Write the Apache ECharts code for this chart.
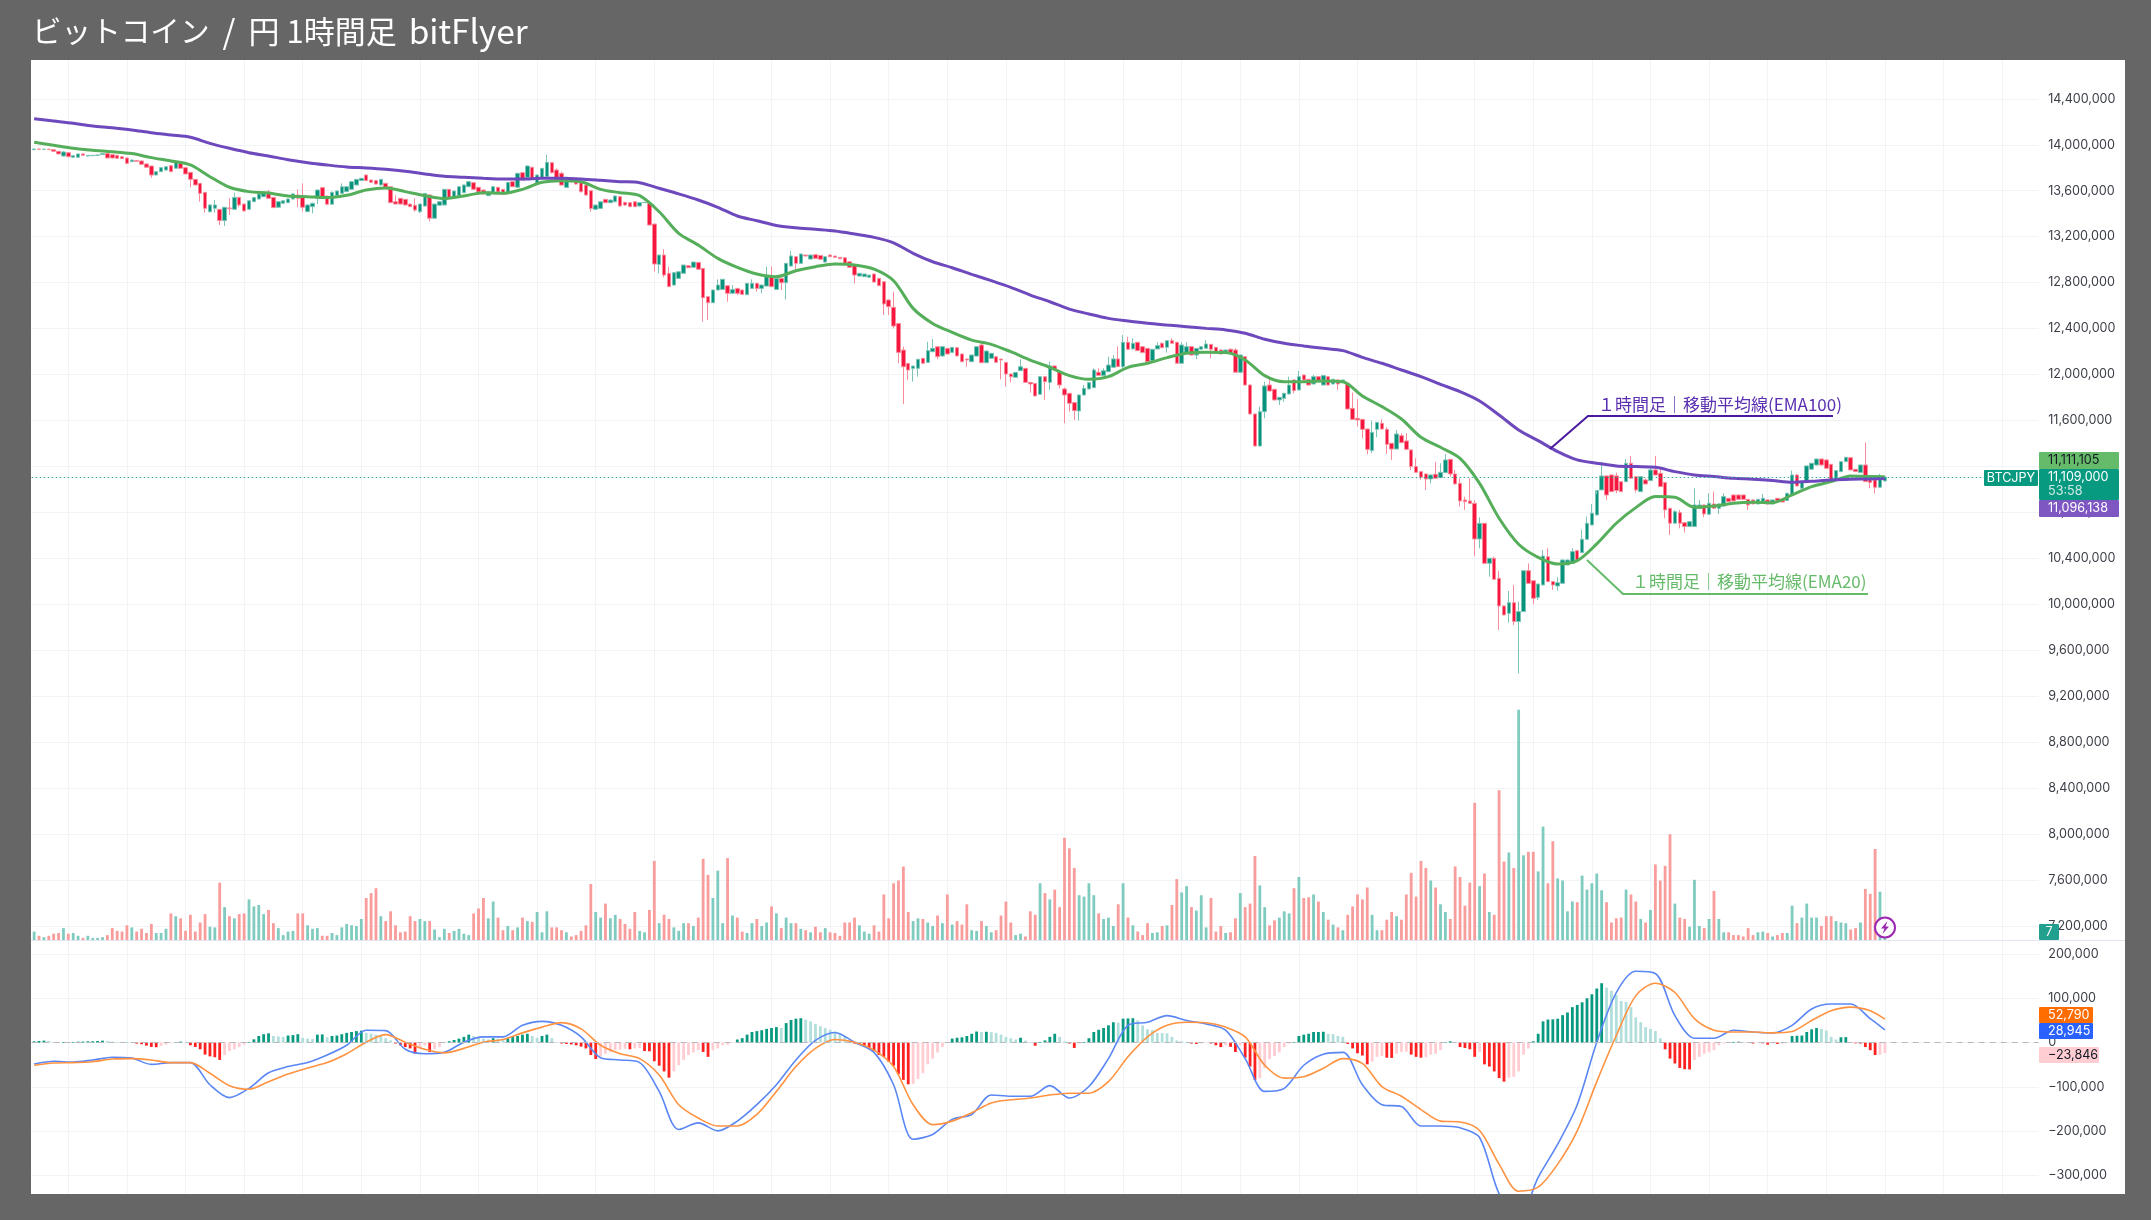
<!DOCTYPE html>
<html>
<head>
<meta charset="utf-8">
<title>BTCJPY 1H</title>
<style>
html,body{margin:0;padding:0;background:#666}
#chart{width:2151px;height:1220px}
</style>
<script src="https://cdn.jsdelivr.net/npm/echarts@6/dist/echarts.min.js"></script>
</head>
<body>
<div id="chart"></div>
<script>
// prices are in thousands of yen, macd in thousands
var opens = [13957,13963,13960,13960,13957,13943,13902,13931,13891,13891,13920,13902,13905,13908,13914,13923,13914,13908,13896,13885,13853,13862,13859,13833,13815,13737,13766,13780,13818,13795,13838,13801,13760,13699,13664,13586,13418,13447,13438,13340,13450,13438,13542,13484,13438,13505,13528,13548,13589,13542,13456,13490,13496,13528,13563,13554,13418,13461,13534,13627,13554,13482,13557,13577,13592,13612,13650,13688,13737,13693,13688,13650,13664,13635,13505,13534,13525,13484,13473,13418,13467,13563,13360,13473,13476,13612,13540,13557,13583,13635,13670,13630,13606,13557,13577,13630,13612,13577,13679,13630,13757,13716,13804,13664,13708,13722,
13844,13780,13751,13629,13707,13707,13670,13649,13600,13438,13446,13525,13496,13504,13548,13499,13496,13504,13467,13496,13490,13310,12959,13040,12881,12779,12837,12881,12947,12933,12976,12924,12678,12625,12736,12741,12773,12707,12750,12736,12695,12750,12794,12750,12770,12857,12741,12837,12799,12944,13026,12968,13040,13005,13043,13037,12979,13040,13031,13020,13017,12982,12953,12857,12852,12846,12875,12837,12808,12649,12585,12445,12213,12097,12054,12054,12141,12106,12199,12242,12161,12228,12193,12234,12179,12135,12112,12161,12257,12103,12141,12155,12135,12106,12005,11976,12034,12054,11932,11923,11828,11981,11932,12075,12025,
11875,11837,11756,11683,11822,11875,11886,12020,11991,12025,12063,12136,12069,12281,12223,12281,12243,12228,12121,12223,12272,12237,12295,12281,12098,12185,12243,12170,12220,12228,12263,12237,12214,12185,12220,12214,12020,12156,11909,11657,11378,11677,11909,11872,11779,11793,11831,11953,11866,11996,11959,11918,11982,11909,11982,11918,11953,11930,11924,11706,11619,11610,11526,11338,11523,11576,11523,11402,11352,11468,11422,11344,11199,11155,11135,11091,11132,11103,11146,11262,11135,11053,10908,10900,10879,10569,10705,10357,10401,10227,9986,9922,10015,9850,9937,10293,10206,10061,10169,10415,10198,10160,10183,10343,10357,10467,
10450,10566,10691,10778,10996,11118,11126,11118,11068,11068,11228,11112,10981,11083,11077,11170,11141,11060,10836,10706,10798,10711,10677,10677,10836,10865,10784,10874,10836,10856,10923,10952,10952,10952,10914,10909,10874,10894,10909,10874,10923,10917,10903,10952,11126,11010,11060,11176,11213,11265,11257,11219,11088,11155,11242,11277,11176,11147,11213,11083,11083,11019,11074];
var closes = [13963,13960,13960,13957,13943,13920,13937,13896,13905,13920,13908,13908,13908,13911,13923,13885,13885,13882,13879,13838,13867,13856,13830,13804,13737,13766,13801,13809,13766,13844,13795,13746,13699,13650,13577,13447,13476,13476,13340,13456,13444,13542,13476,13424,13513,13540,13572,13583,13534,13453,13505,13513,13528,13572,13534,13456,13476,13490,13606,13548,13482,13586,13598,13635,13635,13679,13699,13708,13688,13673,13658,13699,13630,13496,13484,13484,13476,13461,13432,13484,13577,13360,13484,13505,13612,13534,13598,13635,13650,13679,13612,13589,13572,13592,13635,13589,13569,13673,13635,13751,13693,13815,13699,13737,13795,13847,
13757,13693,13649,13716,13678,13658,13591,13562,13446,13475,13504,13496,13519,13554,13467,13475,13461,13461,13496,13499,13301,12962,13040,12866,12765,12887,12895,12953,12930,12979,12916,12669,12625,12736,12779,12829,12707,12741,12707,12698,12794,12794,12750,12779,12852,12765,12837,12799,12968,13032,12968,13049,13032,13040,13011,13003,13026,13026,13020,13008,12968,12933,12866,12881,12875,12866,12805,12774,12614,12591,12422,12193,12068,12039,12074,12133,12098,12208,12228,12156,12243,12179,12237,12162,12112,12127,12170,12243,12103,12205,12185,12107,12127,12005,11982,12019,12068,11932,11918,11814,11982,11938,12075,12040,11909,
11822,11750,11686,11822,11880,11930,12040,11993,12034,12083,12136,12069,12281,12220,12272,12208,12191,12112,12220,12252,12234,12295,12272,12098,12257,12243,12170,12228,12243,12266,12220,12185,12179,12214,12185,12020,12170,11909,11657,11378,11677,11901,11857,11779,11802,11837,11909,11860,11982,11953,11909,11982,11944,11991,11909,11959,11918,11953,11700,11610,11605,11523,11349,11497,11584,11526,11393,11352,11483,11407,11349,11199,11149,11106,11091,11126,11097,11149,11257,11135,11048,10900,10894,10879,10569,10705,10357,10401,10218,9986,9908,10015,9850,9937,10293,10183,10053,10177,10421,10198,10169,10189,10386,10386,10459,10386,
10566,10706,10793,10990,11118,10952,10981,10990,10981,11228,11097,10996,11112,11048,11170,11126,11025,10822,10706,10807,10706,10677,10720,10865,10865,10787,10880,10836,10874,10938,10894,10900,10914,10914,10865,10874,10914,10923,10874,10909,10903,10891,10967,11126,11030,11068,11205,11228,11265,11213,11184,11088,11164,11242,11280,11170,11155,11213,11068,11060,11019,11097,11109];
var highs = [13966,13966,13966,13966,13957,13943,13943,13934,13908,13923,13923,13911,13911,13914,13928,13925,13917,13911,13899,13888,13870,13865,13862,13836,13818,13769,13804,13815,13821,13850,13844,13804,13763,13702,13667,13589,13479,13519,13441,13458,13534,13583,13548,13487,13516,13543,13577,13589,13606,13545,13508,13516,13531,13577,13612,13664,13479,13496,13612,13630,13557,13592,13600,13664,13641,13682,13702,13711,13740,13696,13690,13702,13667,13638,13560,13537,13528,13487,13534,13487,13580,13572,13487,13508,13615,13615,13600,13638,13653,13682,13673,13632,13609,13595,13638,13632,13615,13676,13682,13757,13760,13821,13806,13740,13798,13911,
13850,13794,13765,13722,13710,13710,13673,13652,13603,13478,13507,13528,13522,13557,13551,13501,13499,13507,13499,13501,13493,13313,13043,13092,12939,12889,12898,12956,12950,12982,12979,12927,12681,12739,12829,12832,12777,12779,12753,12739,12797,12829,12797,12782,12939,12939,12866,12840,12971,13075,13029,13052,13043,13043,13046,13040,13029,13043,13034,13023,13020,12985,12956,12884,12878,12869,12878,12840,12811,12652,12721,12448,12243,12101,12077,12136,12144,12286,12309,12246,12246,12231,12240,12237,12182,12138,12173,12246,12272,12208,12188,12159,12138,12109,12008,12022,12133,12057,11935,11927,11985,11985,12112,12077,12028,
11889,11840,11758,11825,11909,11932,12054,12054,12054,12156,12170,12243,12344,12330,12315,12284,12246,12231,12223,12281,12281,12298,12315,12284,12281,12281,12246,12231,12246,12301,12266,12240,12217,12217,12228,12228,12173,12159,11912,11660,11721,11938,11967,11875,11805,11840,11982,11956,12031,12000,11961,11996,11985,11993,11985,11961,11956,11956,11927,11843,11785,11613,11529,11599,11587,11610,11541,11405,11518,11489,11489,11346,11271,11158,11138,11129,11242,11228,11309,11265,11170,11097,10937,11097,10908,10758,10708,10404,10415,10290,9989,10116,10169,10024,10296,10357,10209,10180,10473,10488,10201,10235,10389,10389,10488,10470,
10648,10764,10874,10959,11242,11120,11129,11147,11071,11265,11292,11115,11115,11097,11199,11292,11184,11062,10839,10822,10822,10714,10723,11010,10909,10868,10967,10981,10877,10967,10926,10955,10955,10955,10917,10911,10917,10961,10911,10911,10926,10920,10970,11164,11129,11071,11207,11231,11268,11268,11260,11222,11167,11245,11283,11280,11178,11216,11408,11086,11086,11135,11106];
var lows = [13954,13957,13957,13954,13940,13917,13899,13893,13888,13888,13905,13899,13902,13905,13911,13882,13882,13879,13876,13830,13850,13853,13827,13801,13713,13734,13763,13775,13763,13792,13792,13743,13630,13647,13505,13409,13409,13409,13302,13293,13389,13432,13456,13421,13435,13502,13525,13545,13531,13450,13456,13488,13493,13525,13456,13418,13415,13403,13484,13545,13479,13479,13554,13572,13589,13609,13647,13685,13685,13670,13655,13647,13627,13493,13482,13482,13473,13458,13418,13403,13464,13331,13357,13470,13473,13531,13537,13554,13580,13632,13609,13586,13569,13554,13574,13586,13566,13574,13632,13627,13690,13714,13696,13661,13705,13708,
13751,13687,13644,13623,13676,13655,13586,13560,13417,13435,13444,13493,13493,13501,13464,13472,13458,13458,13464,13493,13298,12895,12881,12846,12762,12777,12834,12878,12927,12930,12913,12460,12475,12623,12733,12739,12634,12704,12692,12695,12692,12747,12721,12707,12768,12762,12739,12736,12655,12942,12915,12965,13029,13003,13008,13000,12976,13023,13017,13005,12965,12930,12794,12855,12849,12843,12802,12770,12518,12518,12402,12097,11744,11952,11938,11982,12095,12103,12196,12133,12159,12176,12190,12159,12109,12068,12109,12159,12100,12100,12138,12103,11958,11894,11932,11973,12031,11930,11843,11811,11825,11779,11866,12037,11880,
11576,11677,11605,11599,11819,11872,11883,11991,11988,12022,12060,12066,12054,12217,12220,12205,12188,12109,12118,12220,12231,12191,12269,12095,12095,12182,12167,12133,12217,12225,12141,12182,12176,12182,12182,12017,12011,11906,11654,11375,11375,11619,11854,11776,11735,11764,11828,11837,11863,11950,11906,11915,11941,11906,11906,11915,11866,11927,11697,11608,11547,11445,11306,11315,11454,11523,11309,11257,11349,11405,11346,11170,11146,11083,10995,11053,11094,11100,11143,11111,11045,10850,10821,10877,10421,10488,10354,10241,10215,9777,9905,9841,9821,9400,9934,10180,10003,10038,10166,10195,10125,10119,10180,10340,10354,10383,
10447,10563,10688,10775,10993,10909,10978,10967,10978,11065,11094,10972,10978,11045,11074,11123,11022,10749,10604,10703,10662,10624,10674,10674,10833,10758,10781,10833,10787,10854,10891,10897,10911,10911,10822,10871,10871,10891,10871,10871,10900,10888,10900,10949,11028,11007,11057,11173,11210,11210,11181,11086,11086,11152,11239,11167,11152,11144,11065,11010,10967,11016,11071];
var volumes = [1.2,.6,.4,.6,.9,1,1.7,.9,1,.6,.3,.6,.3,.3,.4,.7,1.7,1.3,1.2,2.1,1.8,1.2,1.6,1,2.3,1,1,1.6,3.8,3.4,3.1,1.3,3.6,1.2,2.5,3.7,1.9,1.8,8.2,4.7,3.4,3.1,3.7,3.8,5.8,4.8,5,3.7,4.3,2.4,1.7,.7,1.2,1.3,3.8,3.8,2.1,1.6,1.7,.6,.6,1,.7,1.8,2.3,2.1,2,3,6,6.7,7.4,3.4,2.7,4.1,2.1,1.1,1.2,3.4,2.7,3,2.7,2.7,1.5,.4,1.6,1,1.3,1.6,.9,.7,3.8,4.5,6,3.1,5.5,3.2,1.4,2,1.4,1.8,3.2,2.7,2.6,4,1.1,4.1,1.8,1.8,1.4,1.1,.5,.7,1.3,2.1,8,4,3.2,5.2,3.1,3.6,3,2.3,1.6,4,1.3,1.1,4.3,11.3,2.4,3.6,3,1.8,1.3,2.4,2.4,2,3.2,11.6,9.3,6,9.9,
2.4,11.7,3.5,3.2,1.2,1,2.4,3,2,2.5,4.8,3.8,1.7,3.2,2.4,2.4,1.6,1.4,1.1,1.9,1.1,1.7,1.1,1,.6,2.5,2.5,3.2,2.1,1.2,.9,2.1,1.2,6.5,3.1,8.1,8.5,10.5,4,2.7,3.1,3,2.5,2,3.5,2.4,6.5,2.2,2.7,2.2,5.1,1.4,1.3,2.7,2,1.1,1.4,3.5,5.5,2.5,.7,.9,.5,4.1,3.6,8.1,6.7,5.8,7.2,4.7,14.6,13.1,10.3,6.4,6.2,8.1,6.4,3.8,3,3.2,2,5.1,8.1,3.2,2.1,1.2,.7,2.4,1,1.1,2,2.1,5,8.7,6.8,7.7,4.7,4.2,6.4,1.8,6,1.2,2,1,1.1,3.1,6.7,4.7,5.2,12,7.8,4.7,2.1,2.8,3.2,4.1,3.8,7.4,9,
6,6.1,6.5,5.5,4,2.9,2.2,1.8,1.4,3.6,4.8,6.5,5.8,7.5,3.6,1.4,1.4,2.9,4,3.4,2.9,6.5,9.6,6.2,11.3,10.3,8.5,7.5,5.1,4,3,10.5,9,4.9,8.2,19.6,7.7,9.5,4,3.6,21.4,11.2,12.5,10.3,32.9,12.1,12.6,12.6,9.8,16.2,8.1,14.1,8.8,8.5,4.1,5.5,5.4,9.2,7.2,8.1,9.5,7.1,5.4,2.5,3.1,3.2,7.2,6.5,5.5,3,2.5,4.3,10.8,8.5,10.6,15.1,5.2,3.2,3,1.9,8.6,2,1.7,3,7,3,1.1,1.1,.7,.7,.5,1.7,.7,1.1,1.2,1,.5,.7,1,1,4.9,2.4,3.2,5.2,3.2,3.2,2,3.4,3.4,2.7,2.5,2.4,1.5,1.7,2.5,7.3,6.6,13,6.9,1];
var histogram = [3,3.7,4.5,3.7,1.5,.7,1.5,.7,1.5,2.2,2.2,3,3,3.7,4.5,3.7,2.2,1.5,.7,.7,.2,-2.2,-3.7,-6.7,-9.7,-10.4,-7.4,-4.5,-1.5,1.5,2.2,.7,-6,-9.7,-15,-27,-31,-33,-39,-28,-19,-15,-10,-4.5,1.5,7.4,15,19,21,15,14,13,16,17,19,11,9,8,18,18.5,12,15,16,19,22,24,26,27,22,20,18,15,10,5,-2,-6,-10,-13,-25,-13,-6,-21,-15,-10,.5,3,6,9,13,18,15,13,9,7,10,9,7,10,13,15,18,20,15,11,15,18,10,1.5,-2,-3,-4,-6,-9,-13,-28,-37,-31,-25,-21,-17,-16,-14,-15,-13,-12,-19,-19.5,-42,-52,-65,-79,-65,-51,-39,-28,-22,-17,-21,-32,-17,-13,
-6,-4.5,-1,7,10,18,24,26,28,31,33,35,33,44,51,54,55,52,48,42,37,33,29,25,20,13,5,-2,-4.5,-7,-13,-19,-28,-32,-43,-52,-71,-84,-94,-93,-82,-69,-49,-36,-22,-10,.5,9,11,12,15,20,25,24,24.5,23.5,22,18,13,10,7,11,4.5,1.5,-7,1.5,5,13,20,13,3,-2,-12,-2,1.5,10,24,29,33,39,46,45,54,54.5,55,50,39,30,28,22,21.5,21,13,5,3,1.5,-2,-3,-1.5,-1,-2,-6,-10,-6,-9.5,-21,-6,-34,-54,-84,-80,-58,-37,-30,-22,-10,-2,1.5,15,
18,20,24,24,24.5,20,19,15,13,-3,-13,-24,-29,-49,-43,-32,-30,-34,-34.5,-25,-21,-20.5,-27,-32,-34,-33,-27,-25,-17,1.5,3,.5,-10,-12,-15,-32,-21,-49,-54,-65,-80,-88,-79,-77,-65,-27,-13,3,20,48,52,52.5,54,62,68,80,85,91,100,109,122,134,124,117,107,94,92,80,57,46,35,31,26,10,-15,-36,-47,-57,-60,-60.5,-39,-32,-25,-21,-17,-6,-2,-1,1.5,2.2,1.5,-.7,-2,-.7,-1.5,-4.5,-1.5,-3,-2,-1.5,15,15.5,16,24,30,33,31,27,13,7,12,12.5,1.5,-1.5,-2,-10,-17,-28,-27,-23.8];
// the four lines are read every 4th bar, see lineIdx
var ema20 = [14021,13995,13969,13952,13940,13923,13888,13859,13824,13722,13630,13592,13580,13554,13548,13540,13560,13606,13624,13592,13557,13531,13554,13583,13577,13612,13673,
13687,13678,13612,13583,13557,13417,13229,13127,13011,12933,12875,12852,12904,12939,12962,12953,12918,12817,12576,12445,12367,12300,12263,12199,12126,12063,
11991,11959,11982,12063,12098,12147,12185,12194,12191,12127,11991,11938,11938,11944,11938,11814,11721,11613,11454,11367,11271,11053,10749,10523,10409,10351,10380,
10526,10706,10842,10938,10932,10845,10856,10880,10888,10885,10952,11025,11068,11118,11112,11111];
var ema100 = [14227,14207,14187,14163,14149,14129,14105,14085,14065,14012,13969,13931,13902,13870,13844,13824,13807,13798,13786,13769,13746,13725,13717,13708,13702,13702,13708,13708,13702,13691,13679,13670,13621,13572,13519,13456,
13380,13339,13298,13278,13264,13249,13223,13194,13147,13055,12982,12930,12872,12817,12759,12692,12634,
12570,12527,12489,12466,12446,12431,12417,12402,12388,12359,12307,12272,12249,12228,12208,12150,12098,12040,11982,11915,11851,11770,11648,11518,11425,11329,11257,
11228,11205,11199,11193,11155,11126,11112,11097,11089,11077,11062,11071,11083,11089,11092,11096];
var macdLine = [-48,-42,-44,-39,-33,-35,-49,-45,-45,-95,-124,-103,-68,-54,-45,-28,-6,28,27,-15,-25,-22,1,13,13,39,48,39,13,-34,-39,-45,-110,-196,-181,-199,
-177,-140,-95,-39,5,23,1,-22,-95,-218,-207,-173,-162,-118,-121,-121,-97,-125,-99,-36,39,46,61,50,42,28,-36,-110,-103,-51,-26,-22,-95,-140,-144,-188,-188,
-192,-214,-341,-395,-304,-229,-140,1,113,161,156,61,10,10,28,24,22,39,76,87,87,54,29];
var signalLine = [-51,-46,-45,-43,-37,-36,-39,-45,-45,-69,-97,-105,-88,-71,-57,-45,-25,1,18,1,-15,-23,-13,1,7,22,35,45,31,-6,-25,-36,-73,-140,-170,-188,
-188,-162,-110,-54,-13,7,1,-17,-54,-140,-185,-177,-158,-136,-129,-125,-118,-114,-114,-88,-32,13,39,46,45,35,13,-51,-80,-77,-58,-36,-47,-99,-121,-151,-177,
-179,-198,-274,-335,-326,-274,-199,-88,16,106,134,113,54,28,24,24,22,25,50,72,80,72,53];
var priceTicks = {min: 6800, max: 14800, interval: 400};
var macdTicks = {min: -400, max: 300, interval: 100};
var lastPrice = 11109;
var slots = 411; // bars plus the empty space on the right

var UP = '#0a937c', DOWN = '#f5173d';
var axisFont = 'Inter';
var axisSize = 12.6;
var textColor = '#3b3e47';
var gridLine = {show: true, lineStyle: {color: '#f2f3f6', width: 1}, showMinLine: false, showMaxLine: false};

var xNames = [];
for (var i = 0; i < slots; i++) xNames.push(i + '');

var lineIdx = [];
for (var k = 0; k <= 376; k += 4) lineIdx.push(k);
lineIdx.push(379);

function pairs(values) {
    return values.map(function (v, n) { return [lineIdx[n], v]; });
}
function commas(v) {
    return Math.abs(v * 1000).toString().replace(/\B(?=(\d{3})+$)/g, ',');
}
function isDown(i) {
    return closes[i] < opens[i];
}

var candleData = opens.map(function (o, i) {
    return [o, closes[i], lows[i], highs[i]];
});

function xAxisFor(gridIndex, showGrid) {
    return {
        type: 'category',
        gridIndex: gridIndex,
        data: xNames,
        axisLine: {show: false},
        axisTick: {show: false, alignWithLabel: true},
        axisLabel: {show: false},
        splitLine: {
            show: showGrid,
            alignWithLabel: true,
            interval: function (index) { return index % 12 === 7; },
            lineStyle: {color: '#f2f3f6', width: 1}
        }
    };
}

var chart = echarts.init(document.getElementById('chart'));

function badge(x, y, w, h, fill, label, color, center) {
    var list = [{
        type: 'rect', silent: true, z: 70,
        shape: {x: x, y: y, width: w, height: h, r: 1},
        style: {fill: fill}
    }];
    if (label) {
        list.push({
            type: 'text', silent: true, z: 71,
            x: center ? x + w / 2 : 2048, y: y + h / 2,
            style: {
                text: label, fill: color, font: axisSize + 'px ' + axisFont,
                align: center ? 'center' : 'left', verticalAlign: 'middle'
            }
        });
    }
    return list;
}

var graphics = [
    {type: 'rect', silent: true, z: -10, shape: {x: 31, y: 60, width: 2094, height: 1134}, style: {fill: '#fff'}},
    {type: 'rect', silent: true, z: 50, shape: {x: 0, y: 0, width: 2151, height: 60}, style: {fill: '#666'}},
    {type: 'rect', silent: true, z: 50, shape: {x: 0, y: 1194, width: 2151, height: 26}, style: {fill: '#666'}},
    {type: 'line', silent: true, z: 3, shape: {x1: 31, y1: 940.5, x2: 2125, y2: 940.5}, style: {stroke: '#e3e6ee', lineWidth: 1}},
    {type: 'text', silent: true, z: 60, x: 32, y: 31, style: {
        text: '{k|ビットコイン}{s|/}{c|円 1時間足}{l|bitFlyer}',
        fill: '#fff', align: 'left', verticalAlign: 'middle',
        rich: {
            k: {font: '29.6px "Noto Sans CJK JP"', fill: '#fff'},
            s: {font: '33px "Noto Sans CJK JP"', fill: '#fff', padding: [0, 13, 0, 13]},
            c: {font: '31px "Noto Sans CJK JP"', fill: '#fff'},
            l: {font: '33.4px "Noto Sans CJK JP"', fill: '#fff', padding: [0, 0, 0, 12]}
        }
    }},
    // notes with their leader lines
    {type: 'polyline', silent: true, z: 40, shape: {points: [[1550, 449], [1588, 416], [1833, 416]]},
        style: {stroke: '#4a1a9e', lineWidth: 2, fill: 'none'}},
    {type: 'text', silent: true, z: 40, x: 1598, y: 405, style: {
        text: '１時間足｜移動平均線(EMA100)', fill: '#5a2fb0',
        font: '17px "Noto Sans CJK JP"', align: 'left', verticalAlign: 'middle'
    }},
    {type: 'polyline', silent: true, z: 40, shape: {points: [[1587, 560], [1623, 594], [1868, 594]]},
        style: {stroke: '#66bb6a', lineWidth: 2, fill: 'none'}},
    {type: 'text', silent: true, z: 40, x: 1632, y: 582, style: {
        text: '１時間足｜移動平均線(EMA20)', fill: '#66bb6a',
        font: '17px "Noto Sans CJK JP"', align: 'left', verticalAlign: 'middle'
    }},
    // marker on the last volume bar
    {type: 'circle', silent: true, z: 45, shape: {cx: 1885, cy: 927.5, r: 10}, style: {fill: '#fff', stroke: '#9c27b0', lineWidth: 2}},
    {type: 'polygon', silent: true, z: 46, shape: {points: [[1887.5, 921], [1881, 928.5], [1884.5, 928.5], [1882.5, 934], [1889, 926.5], [1885.5, 926.5]]}, style: {fill: '#9c27b0'}}
];
graphics = graphics.concat(
    badge(2039, 452, 80, 17, '#66bb6a', '11,111,105', '#131722'),
    badge(2039, 469, 80, 31, '#089981', '', ''),
    badge(2039, 500, 80, 17, '#7e57c2', '11,096,138', '#fff'),
    badge(1984, 470, 54, 16, '#089981', 'BTCJPY', '#fff', true),
    badge(2039, 924, 20, 16, '#22a08f', '7', '#fff', true),
    badge(2039, 1007, 54, 16, '#ff6d00', '52,790', '#fff'),
    badge(2039, 1023, 54, 16, '#2962ff', '28,945', '#fff'),
    badge(2039, 1047, 60, 16, '#ffcdd2', '\u221223,846', '#131722'),
    [
        {type: 'text', silent: true, z: 72, x: 2048, y: 477, style: {text: '11,109,000', fill: '#fff', font: axisSize + 'px ' + axisFont, verticalAlign: 'middle'}},
        {type: 'text', silent: true, z: 72, x: 2048, y: 491, style: {text: '53:58', fill: '#cfeae4', font: axisSize + 'px ' + axisFont, verticalAlign: 'middle'}}
    ]
);

chart.setOption({
    animation: false,
    backgroundColor: '#666',
    graphic: {elements: graphics},
    grid: [
        {left: 31.7, width: 2007, top: 52.84, height: 919.2},
        {left: 31.7, width: 2007, top: 709, height: 231},
        {left: 31.7, width: 2007, top: 909.6, height: 313.6}
    ],
    xAxis: [xAxisFor(0, true), xAxisFor(1, false), xAxisFor(2, true)],
    yAxis: [{
        type: 'value', gridIndex: 0, position: 'right',
        min: priceTicks.min, max: priceTicks.max, interval: priceTicks.interval,
        axisLine: {show: false}, axisTick: {show: false},
        splitLine: gridLine,
        axisLabel: {
            margin: 9.5, color: textColor, fontFamily: axisFont, fontSize: axisSize,
            showMinLabel: false, showMaxLabel: false,
            formatter: function (v) { return commas(v); }
        }
    }, {
        type: 'value', gridIndex: 1, min: 0, max: 33, show: false
    }, {
        type: 'value', gridIndex: 2, position: 'right',
        min: macdTicks.min, max: macdTicks.max, interval: macdTicks.interval,
        axisLine: {show: false}, axisTick: {show: false},
        splitLine: gridLine,
        axisLabel: {
            margin: 9.5, color: textColor, fontFamily: axisFont, fontSize: axisSize,
            showMinLabel: false, showMaxLabel: false,
            formatter: function (v) { return (v < 0 ? '\u2212' : '') + (v === 0 ? '0' : commas(v)); }
        }
    }],
    series: [{
        type: 'candlestick',
        name: 'BTCJPY',
        data: candleData,
        barWidth: 4,
        itemStyle: {color: UP, color0: DOWN, borderColor: '#7cc4b6', borderColor0: '#f98c9c', borderWidth: 1},
        markLine: {
            silent: true, symbol: 'none', label: {show: false},
            lineStyle: {color: '#2fa896', type: [1.5, 2.5], width: 1},
            data: [{yAxis: lastPrice}]
        }
    }, {
        type: 'line', name: 'EMA20', data: pairs(ema20), smooth: 0.3, symbol: 'none',
        lineStyle: {color: '#55ae5a', width: 3}
    }, {
        type: 'line', name: 'EMA100', data: pairs(ema100), smooth: 0.3, symbol: 'none',
        lineStyle: {color: '#6e48bd', width: 3}
    }, {
        type: 'bar', name: 'Volume', xAxisIndex: 1, yAxisIndex: 1, data: volumes, barWidth: 2.8,
        itemStyle: {
            color: function (p) { return isDown(p.dataIndex) ? '#f89c9c' : '#80cbbf'; }
        }
    }, {
        type: 'bar', name: 'Histogram', xAxisIndex: 2, yAxisIndex: 2, data: histogram, barWidth: 2.8,
        itemStyle: {
            color: function (p) {
                var v = p.value, prev = p.dataIndex > 0 ? histogram[p.dataIndex - 1] : 0;
                if (v >= 0) return v >= prev ? '#089981' : '#b2dfdb';
                return v <= prev ? '#ff2020' : '#ffcdd2';
            }
        },
        markLine: {
            silent: true, symbol: 'none', label: {show: false},
            lineStyle: {color: '#b8b9be', type: [6, 5], width: 1},
            data: [{yAxis: 0}]
        }
    }, {
        type: 'line', name: 'MACD', xAxisIndex: 2, yAxisIndex: 2, data: pairs(macdLine), smooth: 0.3, symbol: 'none',
        lineStyle: {color: '#5b87f5', width: 1.6}
    }, {
        type: 'line', name: 'Signal', xAxisIndex: 2, yAxisIndex: 2, data: pairs(signalLine), smooth: 0.3, symbol: 'none',
        lineStyle: {color: '#ff9240', width: 1.6}
    }]
});
</script>
</body>
</html>
